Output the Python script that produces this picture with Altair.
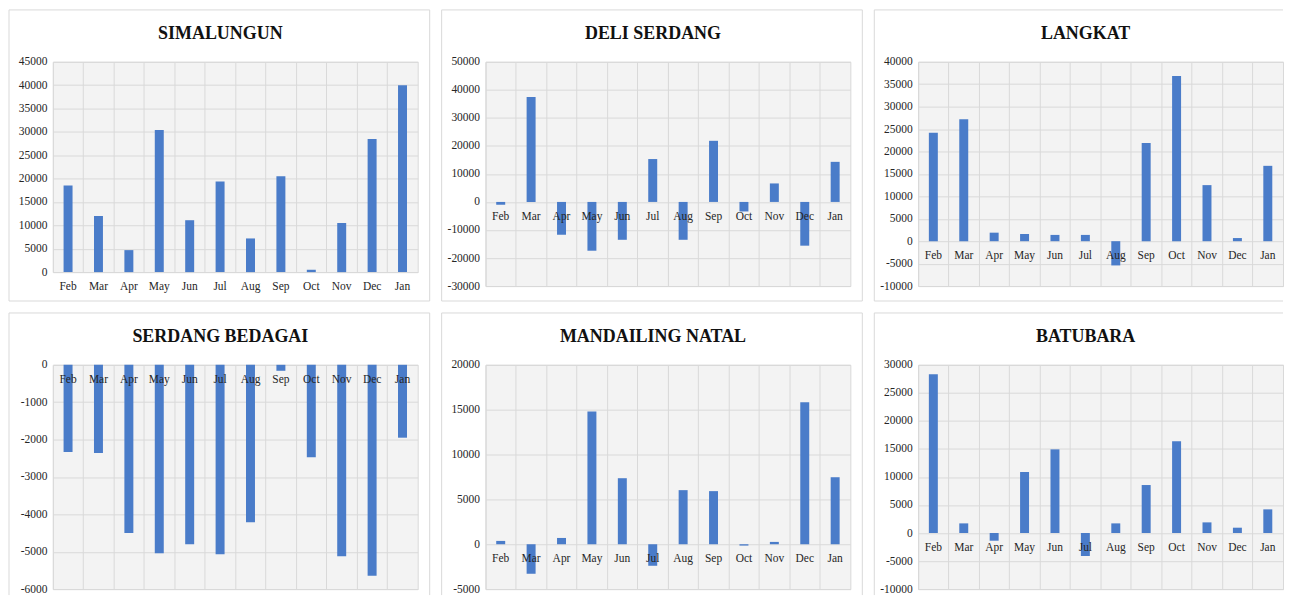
import altair as alt
import pandas as pd

months = ["Feb", "Mar", "Apr", "May", "Jun", "Jul", "Aug", "Sep", "Oct", "Nov", "Dec", "Jan"]

simalungun = [18500, 12000, 4700, 30400, 11100, 19400, 7200, 20500, 500, 10500, 28500, 40000]
deli_serdang = [-1000, 37400, -11700, -17400, -13500, 15300, -13500, 21800, -3400, 6600, -15600, 14300]
langkat = [24200, 27200, 1900, 1600, 1400, 1400, -5400, 21900, 36800, 12500, 700, 16800]
serdang_bedagai = [-2330, -2360, -4500, -5040, -4800, -5070, -4210, -160, -2470, -5120, -5640, -1950]
mandailing_natal = [370, -3290, 700, 14790, 7360, -2400, 6030, 5920, -150, 260, 15830, 7470]
batubara = [28300, 1720, -1370, 10880, 14920, -4100, 1720, 8560, 16350, 1900, 950, 4220]

simalungun_ticks = [0, 5000, 10000, 15000, 20000, 25000, 30000, 35000, 40000, 45000]
deli_serdang_ticks = [-30000, -20000, -10000, 0, 10000, 20000, 30000, 40000, 50000]
langkat_ticks = [-10000, -5000, 0, 5000, 10000, 15000, 20000, 25000, 30000, 35000, 40000]
serdang_bedagai_ticks = [-6000, -5000, -4000, -3000, -2000, -1000, 0]
mandailing_natal_ticks = [-5000, 0, 5000, 10000, 15000, 20000]
batubara_ticks = [-10000, -5000, 0, 5000, 10000, 15000, 20000, 25000, 30000]

FONT = "Liberation Serif"
BLUE = "#4a7cc9"
GRID = "#d9d9d9"
CARD = "#d9d9d9"
TEXT = "#262626"
W = 366
LEFT = -44
TOP = -52


def panel(title, values, ticks, H, bottom_row=False, right_col=False):
    df = pd.DataFrame({"month": months, "value": values, "zero": [0] * len(months)})
    base = alt.Chart(df)
    x = alt.X(
        "month:N", sort=months,
        scale=alt.Scale(paddingInner=0, paddingOuter=0),
        axis=alt.Axis(title=None, labels=False, ticks=False, domain=False,
                      grid=True, gridColor=GRID, bandPosition=0),
    )
    yscale = alt.Scale(domain=[ticks[0], ticks[-1]], nice=False, zero=False)
    yaxis = alt.Axis(title=None, values=ticks, ticks=False, domain=False,
                     grid=True, gridColor=GRID, labelFont=FONT, labelFontSize=11.5,
                     labelColor=TEXT, labelPadding=6,
                     labelExpr="'' + datum.value")
    bars = base.mark_bar(size=9, color=BLUE).encode(
        x=x, y=alt.Y("value:Q", scale=yscale, axis=yaxis, stack=None)
    )
    labels = base.mark_text(font=FONT, fontSize=11.5, color=TEXT, dy=15,
                            baseline="middle").encode(
        x=x, y=alt.Y("zero:Q", scale=yscale, axis=yaxis), text="month:N"
    )
    one = alt.Chart(pd.DataFrame({"k": [0]}))
    bottom = (H + 6) if bottom_row else 240
    right = W if right_col else W + 12
    layers = []
    layers.append(one.mark_rule(color=CARD).encode(
        x=alt.value(LEFT), x2=alt.value(right), y=alt.value(TOP)))
    layers.append(one.mark_rule(color=CARD).encode(
        x=alt.value(LEFT), y=alt.value(TOP), y2=alt.value(bottom)))
    if not right_col:
        layers.append(one.mark_rule(color=CARD).encode(
            x=alt.value(right), y=alt.value(TOP), y2=alt.value(bottom)))
    if not bottom_row:
        layers.append(one.mark_rule(color=CARD).encode(
            x=alt.value(LEFT), x2=alt.value(right), y=alt.value(bottom)))
    ttl = one.mark_text(font=FONT, fontSize=18, fontWeight="bold", color="#111111",
                        baseline="middle").encode(
        x=alt.value(W / 2 - 15), y=alt.value(-28), text=alt.value(title))
    return alt.layer(*layers, bars, labels, ttl).properties(width=W, height=H)


row1 = alt.hconcat(
    panel("SIMALUNGUN", simalungun, simalungun_ticks, 211),
    panel("DELI SERDANG", deli_serdang, deli_serdang_ticks, 225),
    panel("LANGKAT", langkat, langkat_ticks, 225, right_col=True),
    spacing=10,
)
row2 = alt.hconcat(
    panel("SERDANG BEDAGAI", serdang_bedagai, serdang_bedagai_ticks, 225, bottom_row=True),
    panel("MANDAILING NATAL", mandailing_natal, mandailing_natal_ticks, 225, bottom_row=True),
    panel("BATUBARA", batubara, batubara_ticks, 225, bottom_row=True, right_col=True),
    spacing=10,
)

chart = alt.vconcat(row1, row2, spacing=10).properties(
    padding={"left": 0, "top": 0, "right": 0, "bottom": 0},
    background="white",
).configure_view(fill="#f3f3f3", stroke=GRID)

chart.save("out.html", embed_options={"renderer": "svg", "actions": False})
